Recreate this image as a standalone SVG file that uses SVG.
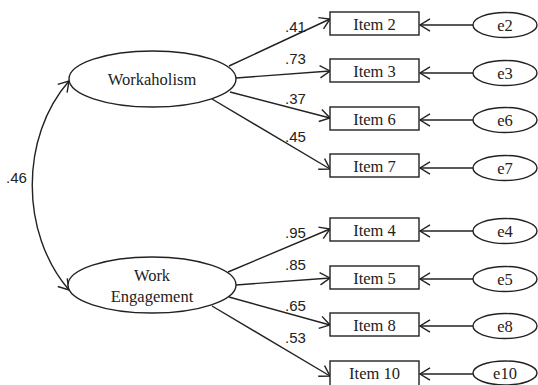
<svg xmlns="http://www.w3.org/2000/svg" width="538" height="385" viewBox="0 0 538 385">
<style>
.box{fill:#fff;stroke:#222;stroke-width:1.4}
.ell{fill:#fff;stroke:#222;stroke-width:1.4}
.ln{fill:none;stroke:#222;stroke-width:1.4}
.t{font-family:"Liberation Serif","Times New Roman",serif;font-size:16.5px;fill:#222;text-anchor:middle}
.n{font-family:"Liberation Sans",Arial,sans-serif;font-size:15px;fill:#222}
</style>
<defs>
<marker id="ah" markerWidth="14" markerHeight="16" refX="11" refY="7" orient="auto-start-reverse" markerUnits="userSpaceOnUse">
<path d="M1,0.8 L11,7 L1,13.2" fill="none" stroke="#222" stroke-width="1.4" stroke-linejoin="miter"/>
</marker>
</defs>
<g id="connectors">
<path class="ln" d="M69,81 C20,137 20,233 69,290" marker-start="url(#ah)" marker-end="url(#ah)"/>
<line class="ln" x1="229" y1="66" x2="330" y2="19" marker-end="url(#ah)"/>
<line class="ln" x1="236" y1="78" x2="330" y2="71" marker-end="url(#ah)"/>
<line class="ln" x1="230" y1="92" x2="330" y2="118" marker-end="url(#ah)"/>
<line class="ln" x1="212" y1="99" x2="330" y2="169" marker-end="url(#ah)"/>
<line class="ln" x1="228" y1="272" x2="330" y2="229" marker-end="url(#ah)"/>
<line class="ln" x1="236" y1="285" x2="330" y2="278" marker-end="url(#ah)"/>
<line class="ln" x1="229" y1="297" x2="330" y2="325" marker-end="url(#ah)"/>
<line class="ln" x1="212" y1="306" x2="330" y2="376" marker-end="url(#ah)"/>
<line class="ln" x1="473" y1="25" x2="420" y2="25" marker-end="url(#ah)"/>
<line class="ln" x1="473" y1="73" x2="420" y2="73" marker-end="url(#ah)"/>
<line class="ln" x1="473" y1="120" x2="420" y2="120" marker-end="url(#ah)"/>
<line class="ln" x1="473" y1="168" x2="420" y2="168" marker-end="url(#ah)"/>
<line class="ln" x1="473" y1="231" x2="420" y2="231" marker-end="url(#ah)"/>
<line class="ln" x1="473" y1="279" x2="420" y2="279" marker-end="url(#ah)"/>
<line class="ln" x1="473" y1="326" x2="420" y2="326" marker-end="url(#ah)"/>
<line class="ln" x1="473" y1="374" x2="420" y2="374" marker-end="url(#ah)"/>
<text class="n" x="6" y="183">.46</text>
<text class="n" x="285" y="32">.41</text>
<text class="n" x="285" y="64">.73</text>
<text class="n" x="285" y="104">.37</text>
<text class="n" x="285" y="142">.45</text>
<text class="n" x="285" y="238">.95</text>
<text class="n" x="285" y="270">.85</text>
<text class="n" x="285" y="311">.65</text>
<text class="n" x="285" y="343">.53</text>
</g>
<g id="workaholism"><ellipse class="ell" cx="152.5" cy="79" rx="83.5" ry="28"/><text class="t" x="152" y="84.5">Workaholism</text></g>
<g id="engagement"><ellipse class="ell" cx="152" cy="285" rx="84" ry="28"/><text class="t" x="152" y="280.5">Work</text><text class="t" x="152" y="301.5">Engagement</text></g>
<g id="item2"><rect class="box" x="330" y="12" width="89" height="23"/><text class="t" x="374.5" y="30">Item 2</text></g>
<g id="item3"><rect class="box" x="330" y="59" width="89" height="23"/><text class="t" x="374.5" y="77">Item 3</text></g>
<g id="item6"><rect class="box" x="330" y="107" width="89" height="23"/><text class="t" x="374.5" y="125">Item 6</text></g>
<g id="item7"><rect class="box" x="330" y="154" width="89" height="23"/><text class="t" x="374.5" y="172">Item 7</text></g>
<g id="item4"><rect class="box" x="330" y="218" width="89" height="23"/><text class="t" x="374.5" y="236">Item 4</text></g>
<g id="item5"><rect class="box" x="330" y="266" width="89" height="23"/><text class="t" x="374.5" y="284">Item 5</text></g>
<g id="item8"><rect class="box" x="330" y="313" width="89" height="23"/><text class="t" x="374.5" y="331">Item 8</text></g>
<g id="item10"><rect class="box" x="330" y="361" width="89" height="25"/><text class="t" x="374.5" y="379">Item 10</text></g>
<g id="e2"><ellipse class="ell" cx="505" cy="25" rx="32" ry="12.5"/><text class="t" x="505" y="30.5">e2</text></g>
<g id="e3"><ellipse class="ell" cx="505" cy="73" rx="32" ry="12.5"/><text class="t" x="505" y="78.5">e3</text></g>
<g id="e6"><ellipse class="ell" cx="505" cy="120" rx="32" ry="12.5"/><text class="t" x="505" y="125.5">e6</text></g>
<g id="e7"><ellipse class="ell" cx="505" cy="168" rx="32" ry="12.5"/><text class="t" x="505" y="173.5">e7</text></g>
<g id="e4"><ellipse class="ell" cx="505" cy="231" rx="32" ry="12.5"/><text class="t" x="505" y="236.5">e4</text></g>
<g id="e5"><ellipse class="ell" cx="505" cy="279" rx="32" ry="12.5"/><text class="t" x="505" y="284.5">e5</text></g>
<g id="e8"><ellipse class="ell" cx="505" cy="326" rx="32" ry="12.5"/><text class="t" x="505" y="331.5">e8</text></g>
<g id="e10"><ellipse class="ell" cx="505" cy="373" rx="32" ry="12"/><text class="t" x="505" y="378.5">e10</text></g>
</svg>
